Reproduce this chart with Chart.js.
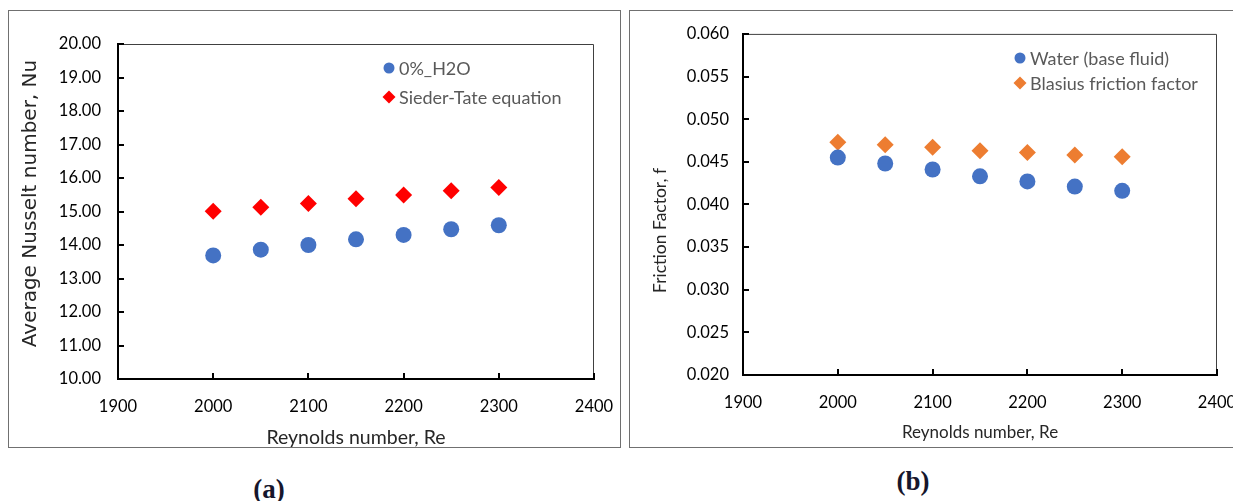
<!DOCTYPE html>
<html>
<head>
<meta charset="utf-8">
<script src="https://cdn.jsdelivr.net/npm/chart.js@4.4.0/dist/chart.umd.min.js"></script>
<style>
  html, body { margin: 0; padding: 0; width: 1233px; height: 501px; overflow: hidden; background: #fff; }
  .marco { position: absolute; box-sizing: border-box; border: 1.5px solid #707070; }
  canvas { position: absolute; }
  .etiq { position: absolute; font-family: 'Liberation Serif', 'Times New Roman', serif; font-weight: bold;
          font-size: 27px; color: #16162c; transform: translate(-50%, -50%); }
</style>
</head>
<body>
<div class="marco" style="left:8px;top:10px;width:613px;height:438px"></div>
<div class="marco" style="left:629px;top:10px;width:700px;height:438px"></div>
<canvas id="graf-a" width="626" height="438" style="left:8px;top:10px"></canvas>
<canvas id="graf-b" width="640" height="438" style="left:629px;top:10px"></canvas>
<div class="etiq" style="left:269px;top:489px">(a)</div>
<div class="etiq" style="left:913px;top:481px">(b)</div>
<script>
// datos
const reynolds     = [2000, 2050, 2100, 2150, 2200, 2250, 2300];
const nuAgua       = [13.69, 13.86, 14.00, 14.17, 14.30, 14.47, 14.59];
const nuSiederTate = [15.01, 15.13, 15.24, 15.38, 15.49, 15.62, 15.72];
const fAgua        = [0.0455, 0.0448, 0.0441, 0.0433, 0.0427, 0.0421, 0.0416];
const fBlasius     = [0.0473, 0.0470, 0.0467, 0.0463, 0.0461, 0.0458, 0.0456];

const ticksRe = [1900, 2000, 2100, 2200, 2300, 2400];
const ticksNu = [10, 11, 12, 13, 14, 15, 16, 17, 18, 19, 20];
const ticksF  = [0.020, 0.025, 0.030, 0.035, 0.040, 0.045, 0.050, 0.055, 0.060];

const SANS = "Lato, 'Open Sans', sans-serif";
const fuenteTick = { family: SANS, size: 16.5 };

// marco superior/derecho, ticks hacia adentro, titulo Y y leyenda
const marcoPlot = {
  id: 'marcoPlot',
  afterDraw(chart, args, opts) {
    const { ctx, chartArea: a, scales } = chart;
    ctx.save();
    ctx.strokeStyle = '#404040';
    ctx.lineWidth = 1;
    ctx.beginPath();
    ctx.moveTo(a.left, a.top + 0.5);
    ctx.lineTo(a.right - 0.5, a.top + 0.5);
    ctx.lineTo(a.right - 0.5, a.bottom);
    ctx.stroke();

    ctx.strokeStyle = '#000';
    ctx.lineWidth = 2;
    ctx.beginPath();
    scales.x.ticks.forEach(t => {
      const p = Math.round(scales.x.getPixelForValue(t.value));
      ctx.moveTo(p, a.bottom); ctx.lineTo(p, a.bottom - 6);
    });
    scales.y.ticks.forEach(t => {
      const p = Math.round(scales.y.getPixelForValue(t.value));
      ctx.moveTo(a.left, p); ctx.lineTo(a.left + 6, p);
    });
    ctx.stroke();

    // titulo del eje Y (no centrado en el area, como en el original)
    const T = opts.tituloY;
    ctx.save();
    ctx.translate(T.x, (a.top + a.bottom) / 2 + T.dy);
    ctx.rotate(-Math.PI / 2);
    ctx.font = T.font;
    ctx.fillStyle = '#262626';
    ctx.textAlign = 'center';
    ctx.textBaseline = 'middle';
    ctx.fillText(T.text, 0, 0);
    ctx.restore();

    const L = opts.leyenda;
    ctx.font = `18px ${SANS}`;
    ctx.textBaseline = 'middle';
    ctx.textAlign = 'left';
    chart.data.datasets.forEach((ds, i) => {
      const y = L.y + i * L.dy;
      ctx.fillStyle = ds.backgroundColor;
      ctx.beginPath();
      if (ds.pointStyle === 'circle') {
        ctx.arc(L.x, y, 5.5, 0, Math.PI * 2);
      } else {
        ctx.moveTo(L.x, y - 6.5); ctx.lineTo(L.x + 6.5, y);
        ctx.lineTo(L.x, y + 6.5); ctx.lineTo(L.x - 6.5, y);
        ctx.closePath();
      }
      ctx.fill();
      ctx.fillStyle = '#595959';
      ctx.fillText(ds.label, L.x + 10, y + 1);
    });
    ctx.restore();
  }
};

function crearGrafica(id, cfg) {
  return new Chart(document.getElementById(id), {
    type: 'scatter',
    data: {
      datasets: cfg.series.map(s => ({
        label: s.nombre,
        data: reynolds.map((re, i) => ({ x: re, y: s.valores[i] })),
        pointStyle: s.forma,
        pointRadius: s.radio,
        pointHoverRadius: s.radio,
        backgroundColor: s.color,
        borderColor: s.color,
        borderWidth: 0
      }))
    },
    options: {
      responsive: false,
      animation: false,
      devicePixelRatio: 1,
      layout: { padding: cfg.padding },
      plugins: {
        legend: { display: false },
        tooltip: { enabled: false },
        marcoPlot: { leyenda: cfg.leyenda, tituloY: cfg.tituloY }
      },
      scales: {
        x: {
          type: 'linear', min: 1900, max: 2400,
          afterBuildTicks: s => { s.ticks = ticksRe.map(v => ({ value: v })); },
          afterFit: s => { s.height = cfg.altoX; },
          grid: { drawOnChartArea: false, drawTicks: false },
          border: { color: '#000', width: 2 },
          ticks: { padding: 18, color: '#000', font: fuenteTick, autoSkip: false, maxRotation: 0, callback: v => String(v) },
          title: { display: true, text: 'Reynolds number, Re', color: '#262626',
                   font: cfg.fuenteTituloX, padding: { top: 0, bottom: cfg.padTituloX } }
        },
        y: {
          type: 'linear', min: cfg.yMin, max: cfg.yMax,
          afterBuildTicks: s => { s.ticks = cfg.ticksY.map(v => ({ value: v })); },
          afterFit: s => { s.width = cfg.anchoY; },
          grid: { drawOnChartArea: false, drawTicks: false },
          border: { color: '#000', width: 2 },
          ticks: { padding: cfg.padTickY, color: '#000', font: fuenteTick, autoSkip: false,
                   callback: v => v.toFixed(cfg.decimales) }
        }
      }
    },
    plugins: [marcoPlot]
  });
}

crearGrafica('graf-a', {
  series: [
    { nombre: '0%_H2O', valores: nuAgua, forma: 'circle', radio: 8, color: '#4472C4' },
    { nombre: 'Sieder-Tate equation', valores: nuSiederTate, forma: 'rectRot', radio: 8.5, color: '#FF0000' }
  ],
  padding: { left: 13, top: 34, right: 40, bottom: 0 },
  anchoY: 97, altoX: 69, padTickY: 17,
  yMin: 10, yMax: 20, ticksY: ticksNu, decimales: 2,
  tituloY: { text: 'Average Nusselt number, Nu', font: "20px 'DejaVu Sans', sans-serif", x: 23, dy: -8 },
  fuenteTituloX: { family: SANS, size: 19.5, lineHeight: 1 },
  padTituloX: 1,
  leyenda: { x: 381, y: 58, dy: 29 }
});

crearGrafica('graf-b', {
  series: [
    { nombre: 'Water (base fluid)', valores: fAgua, forma: 'circle', radio: 8, color: '#4472C4' },
    { nombre: 'Blasius friction factor', valores: fBlasius, forma: 'rectRot', radio: 8.5, color: '#ED7D31' }
  ],
  padding: { left: 22, top: 14, right: 52, bottom: 0 },
  anchoY: 92, altoX: 73, padTickY: 14,
  yMin: 0.020, yMax: 0.060, ticksY: ticksF, decimales: 3,
  tituloY: { text: 'Friction Factor, f', font: `17.5px ${SANS}`, x: 31, dy: 26 },
  fuenteTituloX: { family: SANS, size: 17, lineHeight: 1 },
  padTituloX: 7,
  leyenda: { x: 391, y: 48, dy: 25 }
});
</script>
</body>
</html>
